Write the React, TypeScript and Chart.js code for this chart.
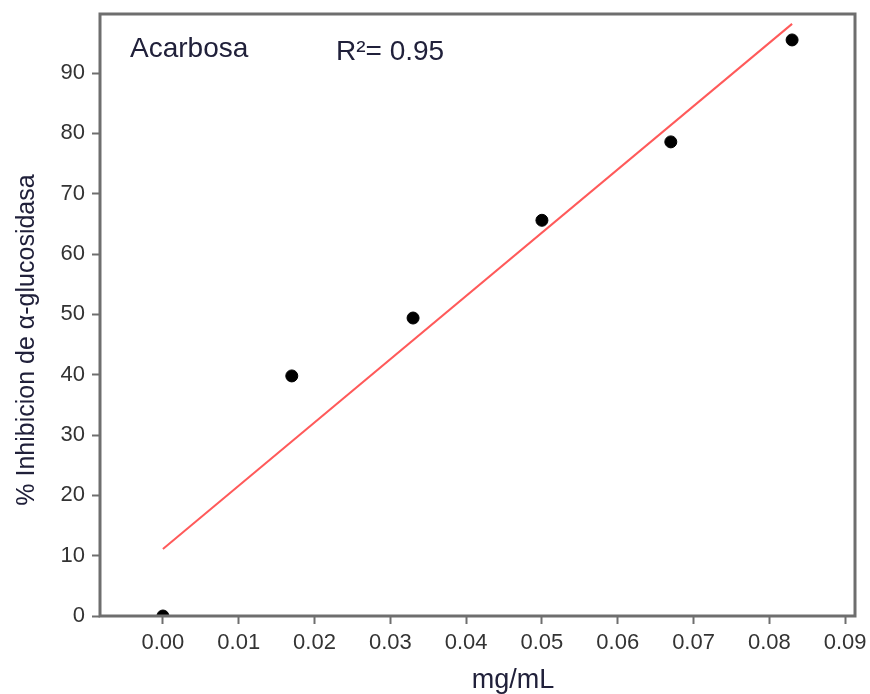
import React, { useEffect, useRef } from "react";
import { Chart, registerables } from "chart.js";

Chart.register(...registerables);

const concentrations = [0, 0.017, 0.033, 0.05, 0.067, 0.083];
const inhibition = [0, 39.8, 49.4, 65.6, 78.6, 95.5];
const xTicks = [0, 0.01, 0.02, 0.03, 0.04, 0.05, 0.06, 0.07, 0.08, 0.09];
const yTicks = [0, 10, 20, 30, 40, 50, 60, 70, 80, 90];
const sampleLabel = "Acarbosa";
const r2Label = "R²= 0.95";
const xTitle = "mg/mL";
const yTitle = "% Inhibicion de α-glucosidasa";

function fitLine(xs: number[], ys: number[]) {
  const n = xs.length;
  const mx = xs.reduce((a, b) => a + b, 0) / n;
  const my = ys.reduce((a, b) => a + b, 0) / n;
  let sxy = 0;
  let sxx = 0;
  for (let i = 0; i < n; i++) {
    sxy += (xs[i] - mx) * (ys[i] - my);
    sxx += (xs[i] - mx) * (xs[i] - mx);
  }
  const slope = sxy / sxx;
  const intercept = my - slope * mx;
  const x0 = Math.min(...xs);
  const x1 = Math.max(...xs);
  return [
    { x: x0, y: intercept + slope * x0 },
    { x: x1, y: intercept + slope * x1 },
  ];
}

const FONT = "'Liberation Sans', Arial, sans-serif";
const AXIS_COLOR = "#6e6e6e";
const TEXT_COLOR = "#20203a";

const overlayPlugin = {
  id: "overlay",
  afterDraw(chart: any) {
    const { ctx, chartArea } = chart;
    ctx.save();
    ctx.strokeStyle = AXIS_COLOR;
    ctx.lineWidth = 3;
    ctx.strokeRect(chartArea.left, chartArea.top, chartArea.right - chartArea.left, chartArea.bottom - chartArea.top);

    ctx.fillStyle = TEXT_COLOR;
    ctx.font = `28px ${FONT}`;
    ctx.textAlign = "left";
    ctx.textBaseline = "alphabetic";
    ctx.fillText(sampleLabel, 130, 57);
    ctx.fillText(r2Label, 336, 60);

    ctx.textAlign = "center";
    ctx.font = `27px ${FONT}`;
    ctx.fillText(xTitle, 513, 688);

    ctx.font = `25px ${FONT}`;
    ctx.translate(27, 340);
    ctx.rotate(-Math.PI / 2);
    ctx.textBaseline = "middle";
    ctx.fillText(yTitle, 0, 0);
    ctx.restore();
  },
};

export default function App() {
  const canvasRef = useRef<HTMLCanvasElement | null>(null);

  useEffect(() => {
    if (!canvasRef.current) return;
    const points = concentrations.map((x, i) => ({ x, y: inhibition[i] }));
    const chart = new Chart(canvasRef.current, {
      type: "scatter",
      data: {
        datasets: [
          {
            label: "data",
            data: points,
            backgroundColor: "#000",
            borderColor: "#000",
            pointRadius: 6,
            pointHoverRadius: 6,
            order: 0,
          },
          {
            label: "fit",
            data: fitLine(concentrations, inhibition),
            showLine: true,
            borderColor: "#ff5a5a",
            borderWidth: 2,
            pointRadius: 0,
            order: 1,
          },
        ],
      },
      options: {
        animation: false,
        responsive: false,
        maintainAspectRatio: false,
        layout: { padding: { top: 14, right: 15, left: 0, bottom: 0 } },
        plugins: { legend: { display: false }, tooltip: { enabled: false }, title: { display: false } },
        scales: {
          x: {
            type: "linear",
            min: -0.0083,
            max: 0.0913,
            afterBuildTicks: (scale: any) => {
              scale.ticks = xTicks.map((v) => ({ value: v }));
            },
            afterFit: (scale: any) => {
              scale.height = 78;
              scale.paddingLeft = 0;
              scale.paddingRight = 0;
            },
            border: { display: false },
            grid: { drawOnChartArea: false, drawTicks: true, tickLength: 8, tickColor: AXIS_COLOR, tickWidth: 2 },
            ticks: {
              color: "#333",
              font: { family: FONT, size: 22 },
              padding: 6,
              maxRotation: 0,
              autoSkip: false,
              callback: (v: any) => Number(v).toFixed(2),
            },
          },
          y: {
            type: "linear",
            min: 0,
            max: 99.8,
            afterBuildTicks: (scale: any) => {
              scale.ticks = yTicks.map((v) => ({ value: v }));
            },
            afterFit: (scale: any) => {
              scale.width = 100;
              scale.paddingTop = 0;
              scale.paddingBottom = 0;
            },
            border: { display: false },
            grid: { drawOnChartArea: false, drawTicks: true, tickLength: 8, tickColor: AXIS_COLOR, tickWidth: 2 },
            ticks: {
              color: "#333",
              font: { family: FONT, size: 22 },
              padding: 7,
              autoSkip: false,
              callback: (v: any) => String(v),
            },
          },
        },
      },
      plugins: [overlayPlugin],
    });
    return () => chart.destroy();
  }, []);

  return (
    <div style={{ position: "fixed", left: 0, top: 0, width: 870, height: 694, background: "#fff" }}>
      <canvas ref={canvasRef} width={870} height={694} style={{ width: 870, height: 694 }} />
    </div>
  );
}
